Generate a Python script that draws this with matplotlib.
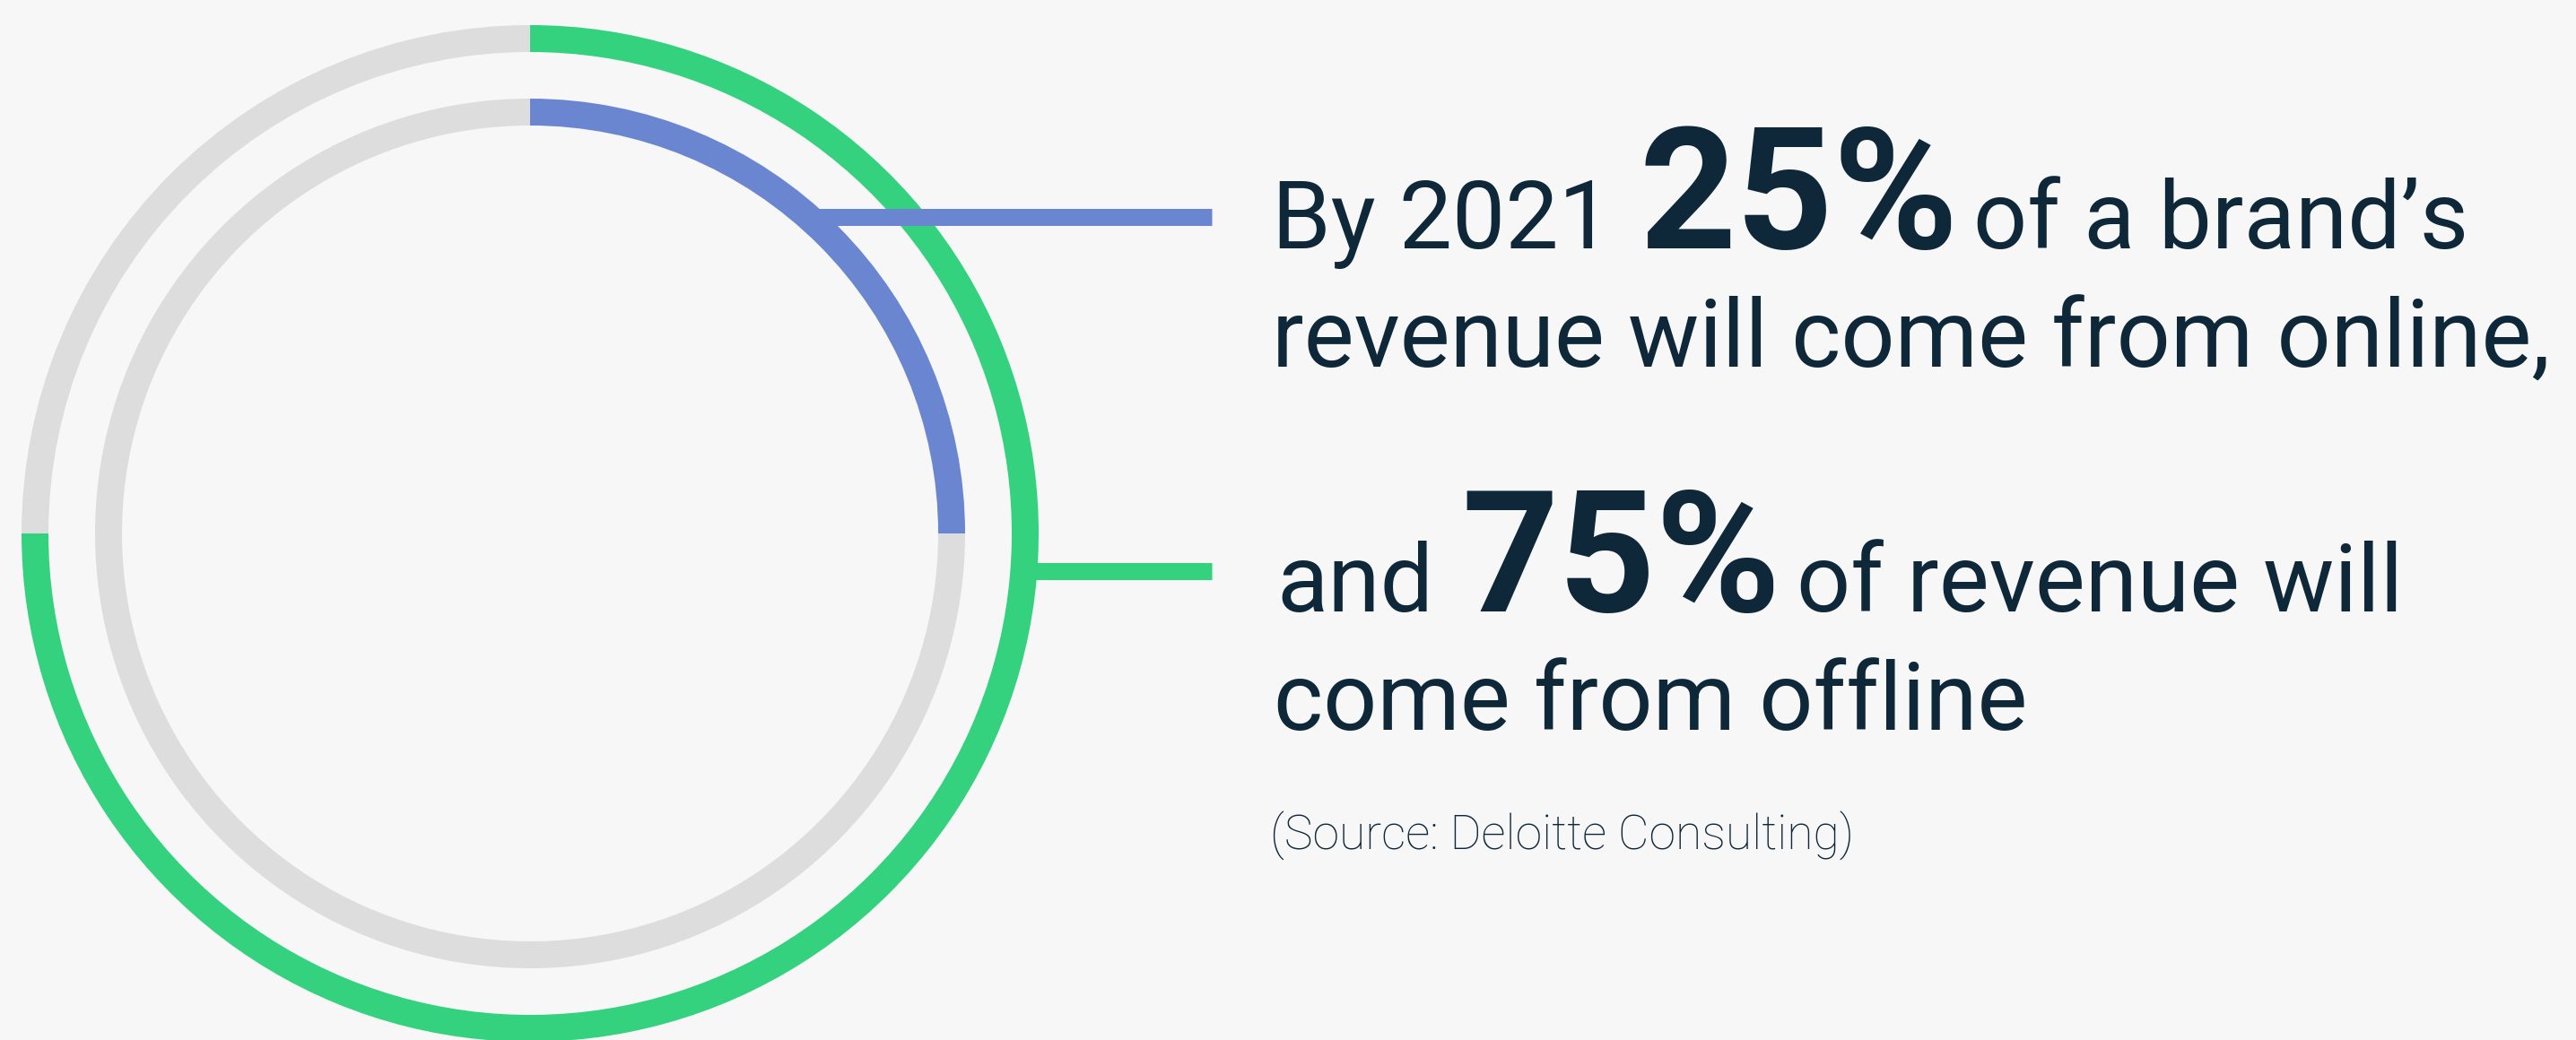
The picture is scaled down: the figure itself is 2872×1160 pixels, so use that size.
import matplotlib
matplotlib.use("Agg")
import matplotlib.pyplot as plt

# dados
online_resto = [25, 75]      # anel interno: online / resto
offline_resto = [75, 25]     # anel externo: offline / resto
cor_verde = '#34D17F'
cor_azul = '#6B86D1'
cor_cinza = '#DDDDDD'
cor_texto = '#0E2839'
fundo = '#F7F7F7'

linha1 = ['By 2021', '25%', "of a brand’s"]
linha2 = 'revenue will come from online,'
linha3 = ['and', '75%', 'of revenue will']
linha4 = 'come from offline'
fonte = '(Source: Deloitte Consulting)'

W, H = 2872, 1160
fig = plt.figure(figsize=(W / 100, H / 100), dpi=100, facecolor=fundo)
ax = fig.add_axes([0, 0, 1, 1])
ax.set_facecolor(fundo)

centro = (591, 595)
largura = 30

# eixo y invertido: 270 graus = topo, anti-horario nos dados = horario na tela
ax.pie(offline_resto, colors=[cor_verde, cor_cinza], radius=567,
       center=centro, startangle=270, counterclock=True,
       wedgeprops=dict(width=largura, linewidth=0))
ax.pie(online_resto, colors=[cor_azul, cor_cinza], radius=485,
       center=centro, startangle=270, counterclock=True,
       wedgeprops=dict(width=largura, linewidth=0))

ax.set_aspect('auto')
ax.set_xlim(0, W)
ax.set_ylim(H, 0)
ax.axis('off')

# linhas de ligacao
lw = 19 * 0.72
ax.plot([908, 1351], [242, 242], color=cor_azul, lw=lw, solid_capstyle='butt', zorder=5)
ax.plot([1150, 1351], [637, 637], color=cor_verde, lw=lw, solid_capstyle='butt', zorder=5)

tam = 76
tam_pct = 136

def linha_mista(partes, xs, y):
    ax.text(xs[0], y, partes[0], fontsize=tam, family='Roboto', color=cor_texto, va='baseline')
    ax.text(xs[1], y, partes[1], fontsize=tam_pct, family='Roboto', weight='bold', color=cor_texto, va='baseline')
    ax.text(xs[2], y, partes[2], fontsize=tam, family='Roboto', color=cor_texto, va='baseline')

linha_mista(linha1, [1418, 1827, 2200], 277)
ax.text(1418, 410, linha2, fontsize=tam, family='Roboto', color=cor_texto, va='baseline')
linha_mista(linha3, [1423, 1629, 2003], 682)
ax.text(1420, 814, linha4, fontsize=tam, family='Roboto', color=cor_texto, va='baseline')
ax.text(1416, 948, fonte, fontsize=38.5, family='Roboto', weight='light', color=cor_texto, va='baseline')

fig.savefig('out.png', dpi=100, facecolor=fundo)
